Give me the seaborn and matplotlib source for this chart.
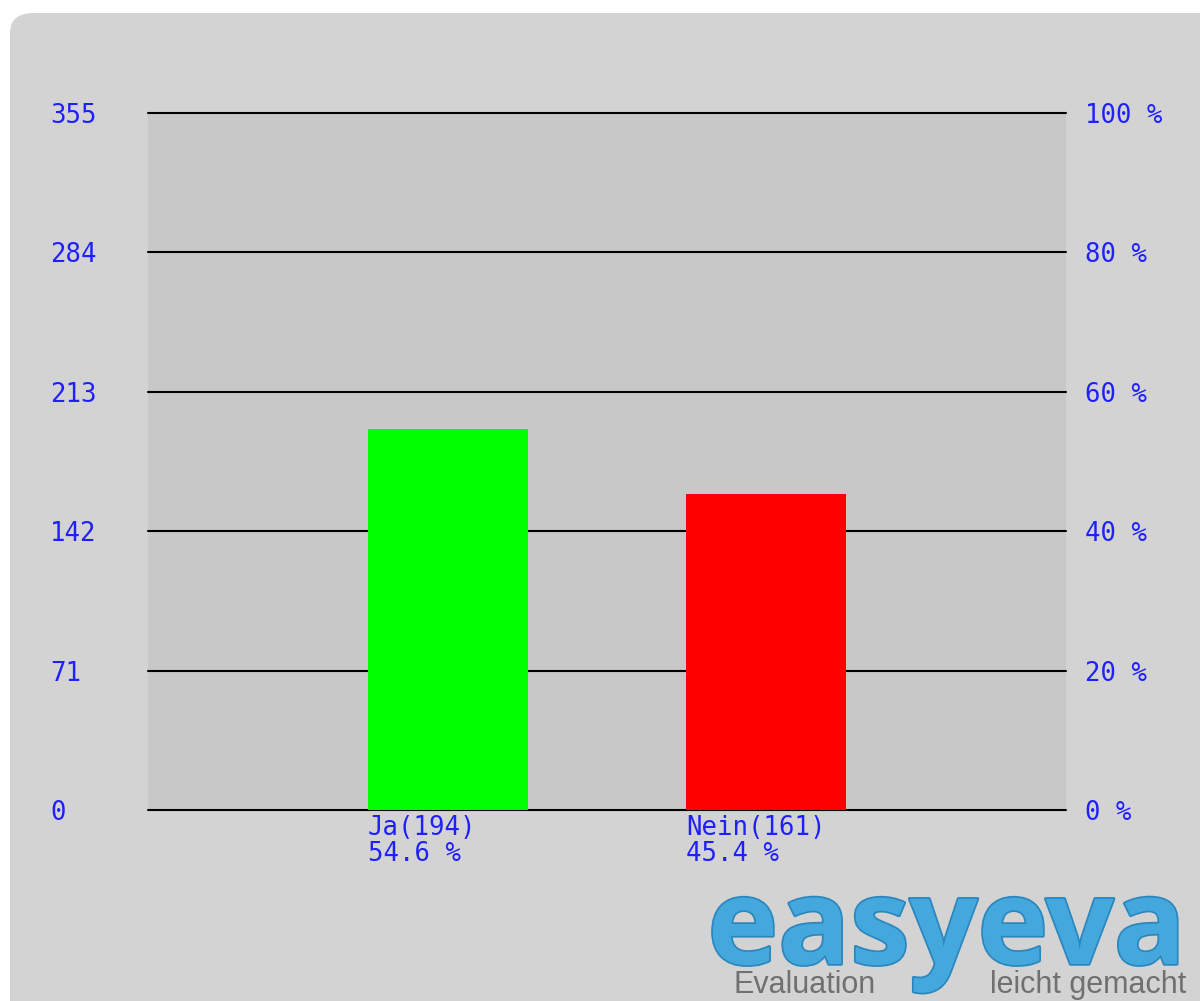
import matplotlib
matplotlib.use("Agg")
import matplotlib.pyplot as plt
import seaborn as sns
import pandas as pd
from matplotlib.patches import FancyBboxPatch
import matplotlib.patheffects as pe

# data
categories = ["Ja", "Nein"]
counts = [194, 161]
bar_colors = ["#00ff00", "#ff0000"]
left_ticks = [0, 71, 142, 213, 284, 355]
right_ticks = [0, 20, 40, 60, 80, 100]

total = sum(counts)
df = pd.DataFrame({"answer": categories, "count": counts})

sns.set_style("white")
blue = "#2020ff"
mono = "DejaVu Sans Mono"
fs = 18.5

fig = plt.figure(figsize=(12, 10.01), dpi=100, facecolor="white")

# rounded grey panel behind everything
panel = FancyBboxPatch((10 / 1200, -0.05), 1.2, 1.05 - 13 / 1001,
                       boxstyle="round,pad=0,rounding_size=0.02",
                       transform=fig.transFigure, facecolor="#d3d3d3",
                       edgecolor="none", zorder=-10)
fig.patches.append(panel)

ax = fig.add_axes([148 / 1200, 191 / 1001, 918 / 1200, 697 / 1001])
ax.set_facecolor("#c8c8c8")

sns.barplot(data=df, x="answer", y="count", hue="answer",
            palette=bar_colors, width=0.503, saturation=1,
            linewidth=0, edgecolor="none",
            legend=False, ax=ax, zorder=3)

ax.set_xlim(-0.943, 1.943)
ax.set_ylim(0, max(left_ticks))
ax.set_yticks(left_ticks)
ax.set_yticklabels([str(t) for t in left_ticks], ha="left",
                   fontfamily=mono, fontsize=fs, color=blue)
ax.tick_params(axis="y", length=0, pad=70.5)
ax.set_xticks([])
ax.set_xlabel("")
ax.set_ylabel("")
for s in ax.spines.values():
    s.set_visible(False)
for t in left_ticks:
    ax.axhline(t, color="black", lw=1.5, zorder=2, clip_on=False)

ax2 = ax.twinx()
ax2.set_ylim(0, 100)
ax2.set_yticks(right_ticks)
ax2.set_yticklabels([f"{t} %" for t in right_ticks], ha="left",
                    fontfamily=mono, fontsize=fs, color=blue)
ax2.tick_params(axis="y", length=0, pad=13.7)
for s in ax2.spines.values():
    s.set_visible(False)

# labels under the bars, left aligned at bar edge
for i, (c, n) in enumerate(zip(categories, counts)):
    ax.text(i - 0.2515, -2.5, f"{c}({n})\n{n / total * 100:.1f} %",
            ha="left", va="top", fontfamily=mono, fontsize=fs,
            color=blue, linespacing=1.0, clip_on=False)

# logo
fig.text(1186 / 1200, 1 - 964 / 1001, "easyeva", ha="right", va="baseline",
         fontsize=86, fontweight="bold", color="#45a8dc",
         fontfamily="Open Sans",
         path_effects=[pe.withStroke(linewidth=2.5, foreground="#2a86bf")])
fig.text(733 / 1200, 1 - 993 / 1001, "Evaluation", ha="left", va="baseline",
         fontsize=22, color="#707070", fontfamily="Liberation Sans")
fig.text(1186 / 1200, 1 - 993 / 1001, "leicht gemacht", ha="right",
         va="baseline", fontsize=22, color="#707070",
         fontfamily="Liberation Sans")

fig.savefig("out.png", dpi=100, facecolor="white")
